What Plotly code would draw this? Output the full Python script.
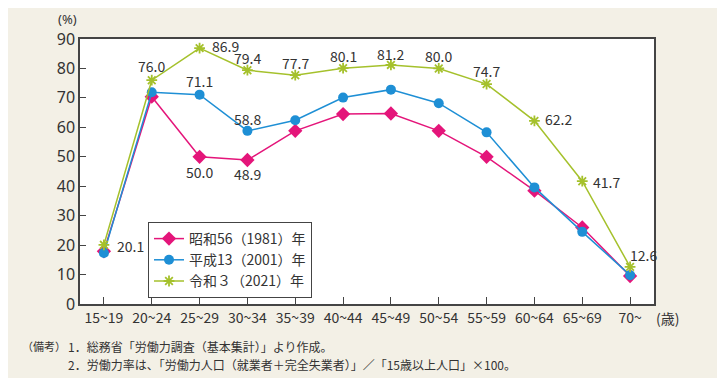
import plotly.graph_objects as go

categories = ["15~19", "20~24", "25~29", "30~34", "35~39", "40~44", "45~49",
              "50~54", "55~59", "60~64", "65~69", "70~"]
s1981 = [17.9, 70.4, 50.0, 48.9, 58.8, 64.5, 64.7, 58.8, 50.0, 38.5, 26.0, 9.5]
s2001 = [17.3, 71.9, 71.1, 58.8, 62.4, 70.1, 72.8, 68.2, 58.3, 39.6, 24.5, 9.8]
s2021 = [20.1, 76.0, 86.9, 79.4, 77.7, 80.1, 81.2, 80.0, 74.7, 62.2, 41.7, 12.6]
names = ["昭和56（1981）年", "平成13（2001）年", "令和３（2021）年"]
yticks = [0, 10, 20, 30, 40, 50, 60, 70, 80, 90]

C1, C2, C3 = "#e4157a", "#1e8fd5", "#a5c12c"
FONT = "Noto Sans CJK JP"
NUMFONT = "Noto Sans"
TXT = "#333333"
BG = "#f3f0e6"

fig = go.Figure()
fig.add_trace(go.Scatter(x=categories, y=s1981, name=names[0], mode="lines+markers",
                         line=dict(color=C1, width=1.5),
                         marker=dict(symbol="diamond", size=11, color=C1)))
fig.add_trace(go.Scatter(x=categories, y=s2001, name=names[1], mode="lines+markers",
                         line=dict(color=C2, width=1.5),
                         marker=dict(symbol="circle", size=10, color=C2)))
fig.add_trace(go.Scatter(x=categories, y=s2021, name=names[2], mode="lines+markers",
                         line=dict(color=C3, width=1.5),
                         marker=dict(symbol="asterisk-open", size=9, color=C3,
                                     line=dict(color=C3, width=1.8))))

anns = []
# (series, index, xanchor, xshift, yshift)
label_specs = [
    (s2021, 0, "left", 11, -1),
    (s2021, 1, "center", 0, 14),
    (s2021, 2, "left", 10, 2),
    (s2021, 3, "center", 0, 12),
    (s2021, 4, "center", 0, 12),
    (s2021, 5, "center", 0, 12),
    (s2021, 6, "center", 0, 11),
    (s2021, 7, "center", 0, 12),
    (s2021, 8, "center", 0, 13),
    (s2021, 9, "left", 9, 2),
    (s2021, 10, "left", 9, -1),
    (s2021, 11, "left", -2, 12),
    (s2001, 2, "center", 0, 14),
    (s2001, 3, "center", 0, 12),
    (s1981, 2, "center", 0, -15),
    (s1981, 3, "center", 0, -14),
]
for ser, i, xa, xs, ys in label_specs:
    anns.append(dict(x=categories[i], y=ser[i], xref="x", yref="y",
                     text=f"{ser[i]:.1f}", showarrow=False, xanchor=xa,
                     yanchor="middle", xshift=xs, yshift=ys,
                     font=dict(family=FONT, size=14, color=TXT)))

# page body has an 8px margin: figure coordinates are reference coordinates minus 8
OFF = 8
W, H = 725 - OFF, 386 - OFF
L, T = 80 - OFF, 39 - OFF
R = W - (654 - OFF)
B = H - (304 - OFF)
pw, ph = W - L - R, H - T - B

def px(x):
    return (x - OFF - L) / pw

def py(y):
    return (H - B - (y - OFF)) / ph

anns.append(dict(x=px(67), y=py(19), xref="paper", yref="paper", text="(%)",
                 showarrow=False, xanchor="center", yanchor="middle",
                 font=dict(family=NUMFONT, size=13, color=TXT)))
anns.append(dict(x=px(654), y=py(318), xref="paper", yref="paper", text="(歳)",
                 showarrow=False, xanchor="left", yanchor="middle",
                 font=dict(family=FONT, size=14, color=TXT)))
anns.append(dict(x=px(20), y=py(346), xref="paper", yref="paper", text="（備考）",
                 showarrow=False, xanchor="left", yanchor="middle",
                 font=dict(family=FONT, size=11, color=TXT)))
anns.append(dict(x=px(66), y=py(346), xref="paper", yref="paper",
                 text="1．総務省「労働力調査（基本集計）」より作成。",
                 showarrow=False, xanchor="left", yanchor="middle",
                 font=dict(family=FONT, size=12, color=TXT)))
anns.append(dict(x=px(66), y=py(364), xref="paper", yref="paper",
                 text="2．労働力率は、「労働力人口（就業者＋完全失業者）」／「15歳以上人口」×100。",
                 showarrow=False, xanchor="left", yanchor="middle",
                 font=dict(family=FONT, size=12, color=TXT)))

shapes = [
    dict(type="rect", xref="paper", yref="paper", x0=px(0), x1=px(740), y0=py(378), y1=py(400),
         fillcolor="white", line=dict(width=0), layer="below"),
    dict(type="rect", xref="paper", yref="paper", x0=px(721), x1=px(740), y0=py(0), y1=py(400),
         fillcolor="white", line=dict(width=0), layer="below"),
]

fig.update_layout(
    width=W, height=H,
    margin=dict(l=L, r=R, t=T, b=B),
    paper_bgcolor=BG, plot_bgcolor="white",
    font=dict(family=FONT, color=TXT),
    showlegend=True,
    legend=dict(x=px(148), y=py(222), xanchor="left", yanchor="top",
                bgcolor="white", bordercolor="#444444", borderwidth=1,
                font=dict(family=FONT, size=14, color=TXT),
                itemwidth=30, tracegroupgap=0),
    annotations=anns,
    shapes=shapes,
    xaxis=dict(type="category", categoryorder="array", categoryarray=categories,
               range=[-0.5, 11.5], showgrid=False, zeroline=False,
               showline=True, linecolor="#444444", linewidth=1.5, mirror=True,
               ticks="inside", ticklen=7, tickcolor="#444444", tickwidth=1,
               tickfont=dict(family=FONT, size=14, color=TXT)),
    yaxis=dict(range=[0, 90], tickvals=yticks, showgrid=False, zeroline=False,
               showline=True, linecolor="#444444", linewidth=1.5, mirror=True,
               ticks="inside", ticklen=6, tickcolor="#444444", tickwidth=1,
               tickfont=dict(family=NUMFONT, size=16, color=TXT)),
)

fig.write_html("out.html")
